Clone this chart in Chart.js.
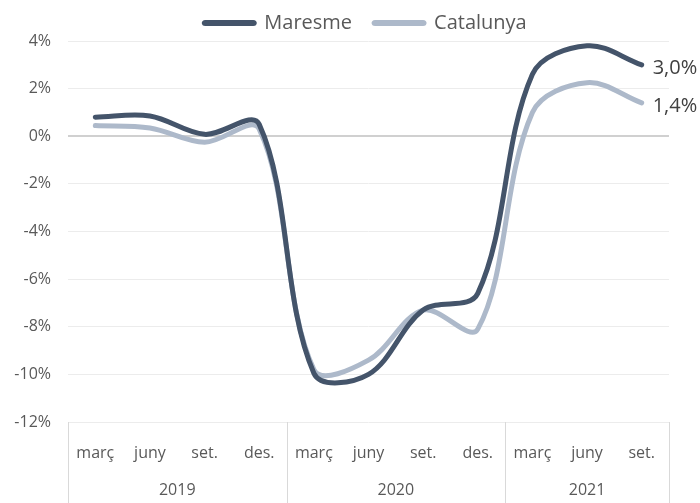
<!DOCTYPE html>
<html>
<head>
<meta charset="utf-8">
<script src="https://cdn.jsdelivr.net/npm/chart.js@4/dist/chart.umd.min.js"></script>
<style>
  html, body { margin: 0; padding: 0; background: #fff; }
  #wrap { width: 700px; height: 503px; }
</style>
</head>
<body>
<div id="wrap"><canvas id="chart" width="700" height="503"></canvas></div>
<script>
// quarterly months, grouped by year
const categories = ['març', 'juny', 'set.', 'des.', 'març', 'juny', 'set.', 'des.', 'març', 'juny', 'set.'];
const years = ['2019', '2020', '2021'];
const yearSpans = [4, 4, 3];

const maresme = [0.8, 0.85, 0.08, 0.5, -9.95, -10.0, -7.3, -6.6, 2.6, 3.8, 3.0];
const catalunya = [0.45, 0.35, -0.25, 0.3, -9.8, -9.4, -7.3, -8.1, 1.0, 2.25, 1.4];
const endLabels = ['3,0%', '1,4%'];

const TXT = '#595959';
const FONT = "'Open Sans', 'Noto Sans', sans-serif";

// year row + separators under the month labels, end-of-line labels
const yearAxis = {
  id: 'yearAxis',
  beforeUpdate(chart) {
    const lg = chart.legend;
    if (lg && !lg._fixed) {
      const fit = lg.fit;
      lg.fit = function () { fit.call(this); this.height = 41; };
      lg._fixed = true;
    }
  },
  afterLayout(chart) {
    // legend sits a bit higher and centred over the plot
    const lg = chart.legend;
    lg.top -= 9;
    lg.left += 31;
    lg.right += 31;
  },
  afterDraw(chart) {
    const x = chart.scales.x;
    const ctx = chart.ctx;
    const step = x.getPixelForValue(1) - x.getPixelForValue(0);
    ctx.save();
    ctx.strokeStyle = '#d9d9d9';
    ctx.lineWidth = 1;
    ctx.fillStyle = TXT;
    ctx.font = '16px ' + FONT;
    ctx.textAlign = 'center';
    ctx.textBaseline = 'middle';
    let start = 0;
    const bounds = [x.getPixelForValue(0) - step / 2];
    yearSpans.forEach((n, i) => {
      const l = x.getPixelForValue(start) - step / 2;
      const r = x.getPixelForValue(start + n - 1) + step / 2;
      bounds.push(r);
      ctx.fillText(years[i], (l + r) / 2, x.top + 68);
      start += n;
    });
    bounds.forEach(b => {
      ctx.beginPath();
      ctx.moveTo(Math.round(b) + 0.5, x.top);
      ctx.lineTo(Math.round(b) + 0.5, chart.height);
      ctx.stroke();
    });
    ctx.restore();
  },
  afterDatasetsDraw(chart) {
    const ctx = chart.ctx;
    ctx.save();
    ctx.fillStyle = '#404040';
    ctx.font = '20px ' + FONT;
    ctx.textBaseline = 'middle';
    chart.data.datasets.forEach((ds, i) => {
      const pts = chart.getDatasetMeta(i).data;
      const p = pts[pts.length - 1];
      ctx.fillText(endLabels[i], p.x + 11, p.y + 3);
    });
    ctx.restore();
  }
};

new Chart(document.getElementById('chart'), {
  type: 'line',
  data: {
    labels: categories,
    datasets: [
      {
        label: 'Maresme',
        data: maresme,
        borderColor: '#44546A',
        backgroundColor: '#44546A',
        borderWidth: 5,
        borderCapStyle: 'round',
        tension: 0.35,
        pointRadius: 0
      },
      {
        label: 'Catalunya',
        data: catalunya,
        borderColor: '#ADB9CA',
        backgroundColor: '#ADB9CA',
        borderWidth: 5,
        borderCapStyle: 'round',
        tension: 0.35,
        pointRadius: 0
      }
    ]
  },
  options: {
    responsive: false,
    animation: false,
    layout: { padding: { left: 0, right: 31, top: 0, bottom: 0 } },
    plugins: {
      legend: {
        position: 'top',
        labels: {
          color: TXT,
          font: { size: 20, family: FONT },
          boxWidth: 50,
          boxHeight: 1,
          useBorderRadius: true,
          borderRadius: 1,
          padding: 22
        }
      },
      tooltip: { enabled: false }
    },
    scales: {
      x: {
        offset: true,
        grid: { display: false },
        border: { display: false },
        ticks: {
          color: TXT,
          font: { size: 16, family: FONT },
          maxRotation: 0,
          autoSkip: false,
          padding: 14
        },
        afterFit(s) { s.height = 81; }
      },
      y: {
        min: -12,
        max: 4,
        grid: {
          drawTicks: false,
          color: ctx => ctx.tick.value === 0 ? '#d0d0d0' : '#ececec',
          lineWidth: ctx => ctx.tick.value === 0 ? 2 : 1
        },
        border: { display: false },
        ticks: {
          stepSize: 2,
          color: TXT,
          font: { size: 16, family: FONT },
          padding: 17,
          callback: v => v + '%'
        },
        afterFit(s) { s.width = 68; }
      }
    }
  },
  plugins: [yearAxis]
});
</script>
</body>
</html>
